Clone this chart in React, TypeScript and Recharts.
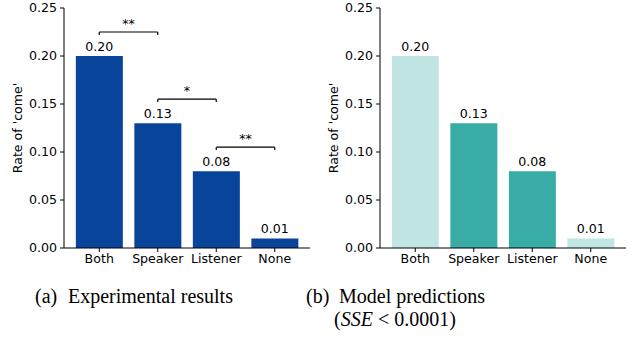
import React from 'react';
import { BarChart, Bar, XAxis, YAxis, Cell, LabelList, ReferenceLine } from 'recharts';

const categories = ['Both', 'Speaker', 'Listener', 'None'];
const experimentalValues = [0.2, 0.13, 0.08, 0.01];
const modelValues = [0.2, 0.13, 0.08, 0.01];
const yTicks = [0, 0.05, 0.1, 0.15, 0.2, 0.25];
const expColors = ['#08449a', '#08449a', '#08449a', '#08449a'];
const modelColors = ['#c1e5e3', '#38aca5', '#38aca5', '#c1e5e3'];
const sigFrom = ['Both', 'Speaker', 'Listener'];
const sigTo = ['Speaker', 'Listener', 'None'];
const sigY = [0.225, 0.155, 0.105];
const sigLabels = ['**', '*', '**'];

const FONT = 'DejaVu Sans';
const FS = 12.6;
const TICK_DROP = 0.003;

const expData = categories.map((c, i) => ({ name: c, value: experimentalValues[i] }));
const modelData = categories.map((c, i) => ({ name: c, value: modelValues[i] }));

const StarLabel = (props: any) => {
  const vb = props.viewBox || {};
  const cx = vb.x + (vb.width || 0) / 2;
  const y = vb.y - 4;
  return (
    <text x={cx} y={y} textAnchor="middle" fill="#000" fontSize={FS} fontFamily={FONT}>
      {props.value}
    </text>
  );
};

function Panel({ data, colors, brackets }: { data: any[]; colors: string[]; brackets: boolean }) {
  return (
    <BarChart
      width={316}
      height={270}
      data={data}
      margin={{ top: 8, right: 6, bottom: 0, left: 0 }}
      barCategoryGap="10%"
    >
      <XAxis
        dataKey="name"
        stroke="#000"
        tickLine={{ stroke: '#000' }}
        tickSize={4}
        tickMargin={2}
        height={22}
        padding={{ left: 6, right: 6 }}
        tick={{ fill: '#000', fontSize: FS, fontFamily: FONT }}
        interval={0}
      />
      <XAxis xAxisId="top" dataKey="name" orientation="top" height={0} tick={false} tickLine={false} stroke="#000" padding={{ left: 6, right: 6 }} />
      <YAxis
        domain={[0, 0.25]}
        ticks={yTicks}
        width={64}
        stroke="#000"
        tickSize={4}
        tickMargin={3}
        tickFormatter={(v: number) => v.toFixed(2)}
        tick={{ fill: '#000', fontSize: FS, fontFamily: FONT }}
        label={{
          value: "Rate of 'come'",
          angle: -90,
          position: 'insideLeft',
          offset: 0,
          dx: 18,
          style: { textAnchor: 'middle', fill: '#000', fontSize: FS, fontFamily: FONT },
        }}
        allowDataOverflow
      />
      <YAxis yAxisId="right" orientation="right" domain={[0, 0.25]} width={0} tick={false} tickLine={false} stroke="#000" />
      <Bar dataKey="value" isAnimationActive={false}>
        {data.map((d, i) => (
          <Cell key={d.name} fill={colors[i]} />
        ))}
        <LabelList
          dataKey="value"
          position="top"
          offset={5}
          formatter={(v: any) => Number(v).toFixed(2)}
          style={{ fill: '#000', fontSize: FS, fontFamily: FONT }}
        />
      </Bar>
      {brackets &&
        sigY.map((y, i) => (
          <ReferenceLine
            key={'h' + i}
            segment={[
              { x: sigFrom[i], y },
              { x: sigTo[i], y },
            ]}
            stroke="#000"
            strokeWidth={1.2}
            ifOverflow="visible"
            label={<StarLabel value={sigLabels[i]} />}
          />
        ))}
      {brackets &&
        sigY.map((y, i) => (
          <ReferenceLine
            key={'l' + i}
            segment={[
              { x: sigFrom[i], y },
              { x: sigFrom[i], y: y - TICK_DROP },
            ]}
            stroke="#000"
            strokeWidth={1.2}
            ifOverflow="visible"
          />
        ))}
      {brackets &&
        sigY.map((y, i) => (
          <ReferenceLine
            key={'r' + i}
            segment={[
              { x: sigTo[i], y },
              { x: sigTo[i], y: y - TICK_DROP },
            ]}
            stroke="#000"
            strokeWidth={1.2}
            ifOverflow="visible"
          />
        ))}
    </BarChart>
  );
}

export default function App() {
  return (
    <div style={{ position: 'absolute', left: 0, top: 0, width: 628, height: 337, background: '#fff' }}>
      <div style={{ position: 'absolute', left: 0, top: 0 }}>
        <Panel data={expData} colors={expColors} brackets={true} />
      </div>
      <div style={{ position: 'absolute', left: 316, top: 0 }}>
        <Panel data={modelData} colors={modelColors} brackets={false} />
      </div>
      <svg width={628} height={337} style={{ position: 'absolute', left: 0, top: 0, pointerEvents: 'none' }}>
        <g fontFamily="Liberation Serif" fontSize={20} fill="#000">
          <text x={35} y={303}>(a)</text>
          <text x={68} y={303}>Experimental results</text>
          <text x={306} y={303}>(b)</text>
          <text x={339} y={303}>Model predictions</text>
          <text x={334} y={326}>
            (<tspan fontStyle="italic">SSE</tspan> &lt; 0.0001)
          </text>
        </g>
      </svg>
    </div>
  );
}
